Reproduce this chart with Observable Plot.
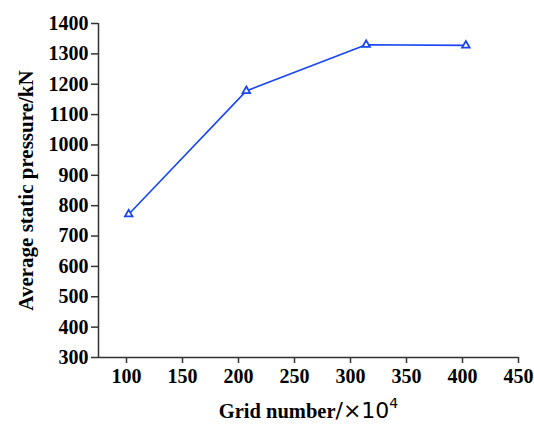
<!DOCTYPE html>
<html>
<head>
<meta charset="utf-8">
<script src="https://cdn.jsdelivr.net/npm/d3@7"></script>
<script src="https://cdn.jsdelivr.net/npm/@observablehq/plot@0.6"></script>
<style>
  html, body { margin: 0; padding: 0; background: #fff; }
</style>
</head>
<body>
<div id="chart"></div>
<script>
const gridNumbers = [102, 207, 314, 403];
const pressures = [772, 1178, 1330, 1328];
const xTicks = [100, 150, 200, 250, 300, 350, 400, 450];
const yTicks = [300, 400, 500, 600, 700, 800, 900, 1000, 1100, 1200, 1300, 1400];
const xLabel = "Grid number";
const yLabel = "Average static pressure/kN";

const data = gridNumbers.map((g, i) => ({grid: g, pressure: pressures[i]}));
const blue = "#1846f5";
const axisColor = "#333";
const fmt = d => String(d);

const chart = Plot.plot({
  width: 534,
  height: 425,
  marginLeft: 98,
  marginRight: 16,
  marginTop: 23,
  marginBottom: 68,
  style: {fontFamily: "Liberation Serif", fontSize: "20px", fontWeight: "bold", color: "#000", background: "#fff"},
  x: {domain: [75, 450]},
  y: {domain: [300, 1400]},
  marks: [
    Plot.axisX({ticks: xTicks, tickFormat: fmt, tickSize: 6, tickPadding: 5, stroke: axisColor, strokeWidth: 1.5,
      fontSize: 20, fontWeight: "bold", label: null}),
    Plot.axisY({ticks: yTicks, tickFormat: fmt, tickSize: 7, tickPadding: 3, stroke: axisColor, strokeWidth: 1.5,
      fontSize: 20, fontWeight: "bold", label: null}),
    Plot.axisX({ticks: [], fontSize: 20.5, fontWeight: "bold", label: xLabel, labelAnchor: "center", labelArrow: false, labelOffset: 60}),
    Plot.axisY({ticks: [], fontSize: 21, fontWeight: "bold", label: yLabel, labelAnchor: "center", labelArrow: false, labelOffset: 80}),
    Plot.ruleY([300], {stroke: axisColor, strokeWidth: 1.5}),
    Plot.ruleX([75], {stroke: axisColor, strokeWidth: 1.5}),
    Plot.line(data, {x: "grid", y: "pressure", stroke: blue, strokeWidth: 1.6}),
    Plot.dot(data, {x: "grid", y: "pressure", symbol: "triangle", r: 2.8, fill: "white", stroke: blue, strokeWidth: 1.8})
  ]
});
document.getElementById("chart").appendChild(chart);

// Mixed-style x label: "Grid number" bold, "/×10" normal, superscript 4
d3.select(chart).selectAll("text").each(function() {
  if (this.textContent === xLabel) {
    const t = d3.select(this);
    t.text(null);
    t.append("tspan").text(xLabel);
    t.append("tspan").attr("font-weight", "normal").attr("font-family", "DejaVu Sans").attr("font-size", 22).text("/×10");
    t.append("tspan").attr("font-weight", "normal").attr("font-family", "DejaVu Sans").attr("font-size", 14).attr("dy", "-0.7em").text("4");
  }
});
</script>
</body>
</html>
